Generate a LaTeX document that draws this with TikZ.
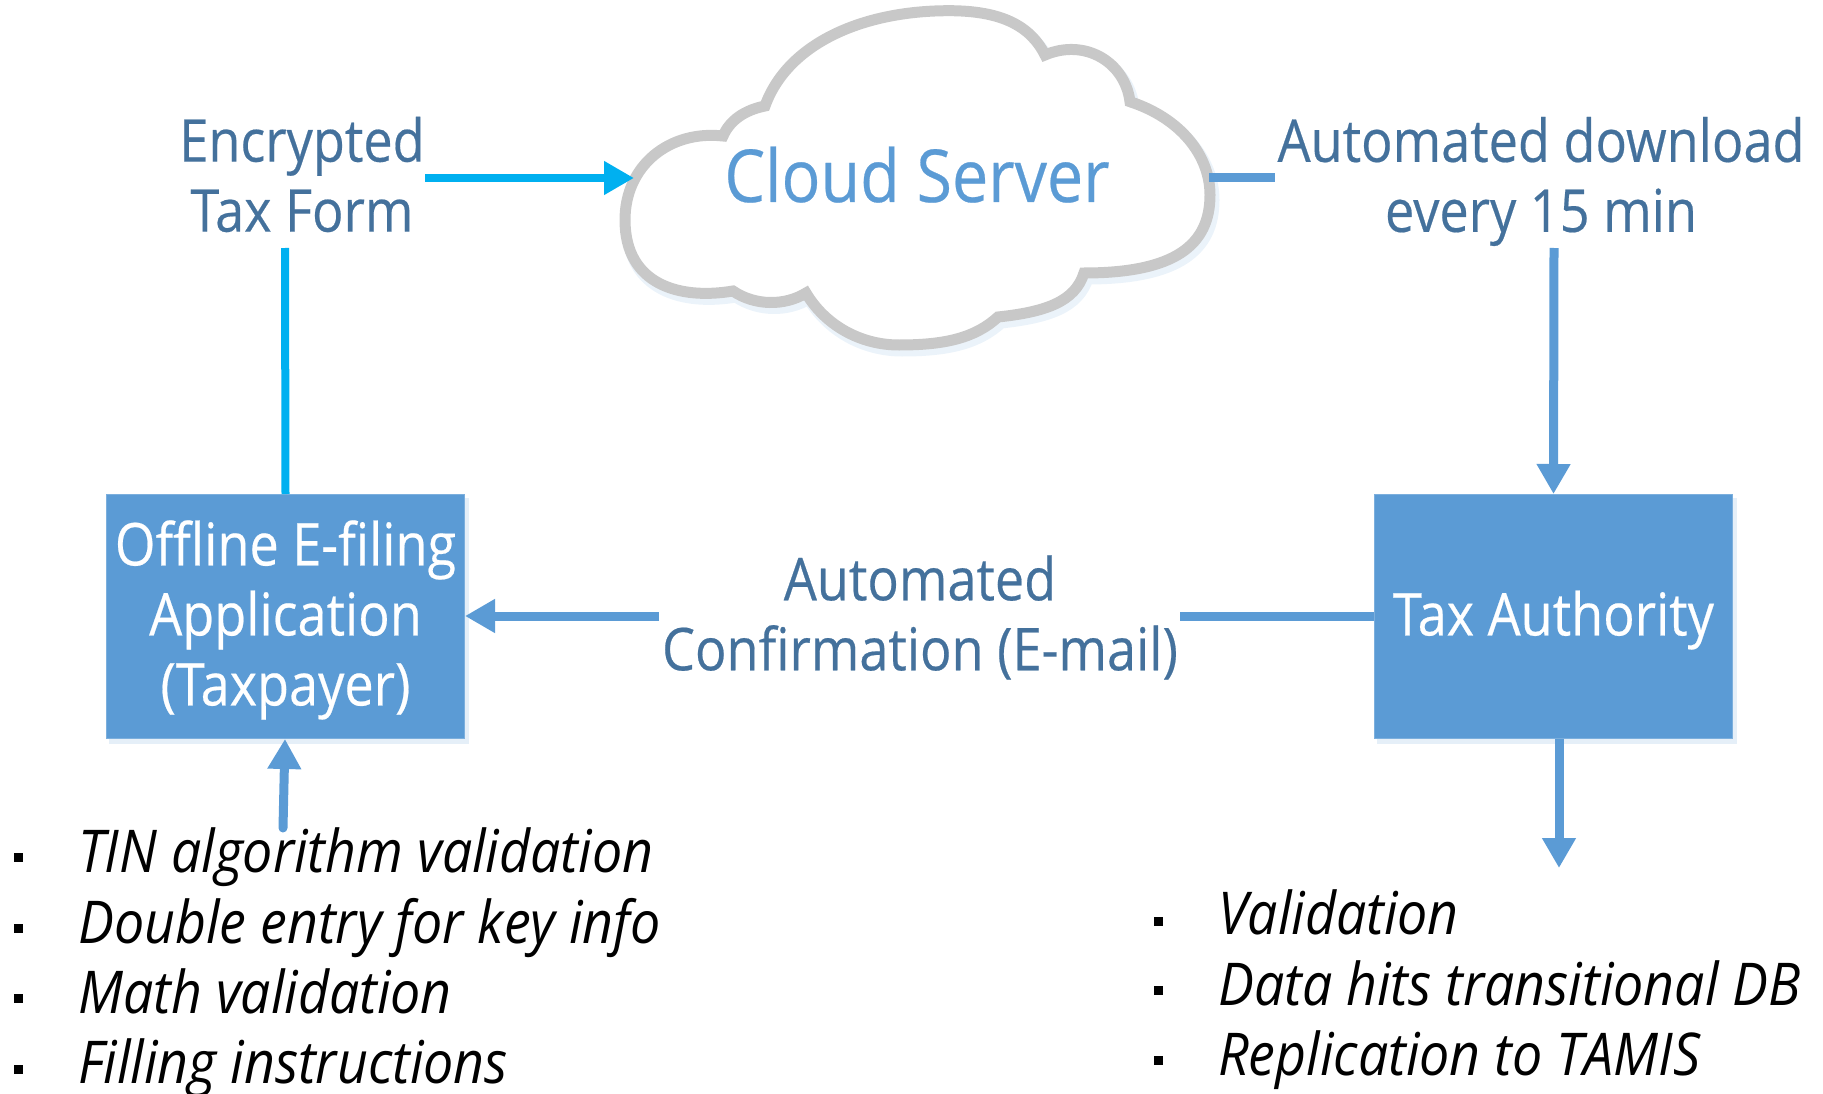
\documentclass[tikz,border=0pt]{standalone}
\usepackage{fontspec}
\usetikzlibrary{arrows.meta}
\newfontfamily\lblfont[FakeStretch=0.885,FakeBold=0.35]{Open Sans}
\newfontfamily\itmfont[FakeStretch=0.91]{Open Sans}
\definecolor{boxblue}{HTML}{5B9BD5}
\definecolor{labelblue}{HTML}{44719C}
\definecolor{cyanline}{HTML}{00B0F0}
\definecolor{cloudgrey}{HTML}{C8C8C8}
\definecolor{haze}{HTML}{BDD7EE}
\newcommand{\cloudshape}{(765,106)
 .. controls (787,45) and (860,10.7) .. (949,10.7)
 .. controls (1000,10.7) and (1030,25) .. (1045,55)
 .. controls (1085,38) and (1125,62) .. (1130,101.7)
 .. controls (1180,118) and (1210,155) .. (1210,195)
 .. controls (1210,245) and (1175,273) .. (1084,273)
 .. controls (1075,302) and (1045,312) .. (998,317)
 .. controls (975,338) and (945,345) .. (899,345)
 .. controls (860,345) and (825,325) .. (806,293)
 .. controls (785,306) and (755,306) .. (733,291)
 .. controls (680,300) and (625,285) .. (625,220)
 .. controls (625,165) and (670,130) .. (723,136)
 .. controls (730,120) and (745,110) .. (765,106) -- cycle}
\tikzset{
 x=1pt,y=-1pt,
 bluebox/.style={fill=boxblue,draw=boxblue!80!white,line width=1pt,minimum width=358pt,minimum height=244pt,inner sep=0pt,text=white,align=center,font=\lblfont\fontsize{59}{70}\selectfont},
 boxhaze/.style={fill=haze,opacity=.4,minimum width=360pt,minimum height=246pt,inner sep=0pt},
 lbl/.style={text=labelblue,align=center,inner sep=0pt,font=\lblfont\fontsize{59}{70}\selectfont},
 cloudlbl/.style={text=boxblue,inner sep=0pt,anchor=base,font=\lblfont\fontsize{73}{80}\selectfont},
 itm/.style={text=black,inner sep=0pt,anchor=base west,font=\itmfont\itshape\fontsize{59}{70}\selectfont},
 bullet/.style={fill=black,minimum width=9pt,minimum height=9pt,inner sep=0pt},
 cyanconn/.style={draw=cyanline,line width=8pt},
 blueconn/.style={draw=boxblue,line width=9pt},
 cyanhead/.style={-{Triangle[length=30pt,width=32pt]}},
}
\begin{document}
\begin{tikzpicture}
\useasboundingbox (0,0) rectangle (1823,1094);
% cloud
\draw[haze,opacity=.3,line width=13pt,line join=miter,shift={(3,5)}] \cloudshape;
\draw[cloudgrey,fill=white,line width=11pt,line join=miter] \cloudshape;
\node[cloudlbl] (cloud) at (917,202) {Cloud Server};
\coordinate (cloudW) at (634,178);
\coordinate (cloudE) at (1209,178);
% boxes
\node[boxhaze] at (288.5,620.5) {};
\node[boxhaze] at (1556.5,620.5) {};
\node[bluebox] (app) at (285.5,616.5) {\rule{0pt}{52pt}Offline E-filing\\Application\\(Taxpayer)};
\node[bluebox] (tax) at (1553.5,616.5) {\rule{0pt}{52pt}Tax Authority};
% labels
\node[lbl] (enc) at (302,174.5) {Encrypted\\Tax Form};
\node[lbl] (auto) at (1541,181.5) {Automated download\\every 15 min};
\node[lbl] (conf) at (920,617.5) {Automated\\Confirmation (E-mail)};
% left list
\node[bullet] (b1) at (18,857) {};
\node[bullet] (b2) at (18,928) {};
\node[bullet] (b3) at (18,998) {};
\node[bullet] (b4) at (18,1069) {};
\node[itm] (t1) at (78,872) {TIN algorithm validation};
\node[itm] (t2) at (78,943) {Double entry for key info};
\node[itm] (t3) at (78,1013) {Math validation};
\node[itm] (t4) at (78,1083) {Filling instructions};
% right list
\node[bullet] (r1) at (1158,921) {};
\node[bullet] (r2) at (1158,990) {};
\node[bullet] (r3) at (1158,1060) {};
\node[itm] (s1) at (1218,934) {Validation};
\node[itm] (s2) at (1218,1005) {Data hits transitional DB};
\node[itm] (s3) at (1218,1075) {Replication to TAMIS};
% connector ends
\coordinate (encS) at (285,248);
\coordinate (encE) at (425,178);
\coordinate (autoW) at (1275,178);
\coordinate (autoS) at (1554,248);
\coordinate (taxW) at (1374,616);
\coordinate (confE) at (1180,616);
\coordinate (confW) at (659,616);
\coordinate (appE) at (465,616);
\coordinate (listTop) at (283,828);
\coordinate (appS) at (285,739);
\coordinate (taxOut) at (1559,739);
\coordinate (taxEnd) at (1559,868);
% connectors
\draw[cyanconn] (app.north) -- (encS);
\draw[cyanconn,cyanhead] (encE) -- (cloudW);
\draw[blueconn] (cloudE) -- (autoW);
\draw[blueconn,cyanhead] (autoS) -- (tax.north);
\draw[blueconn] (taxW) -- (confE);
\draw[blueconn,cyanhead] (confW) -- (appE);
\draw[blueconn,cyanhead,line cap=round] (listTop) -- (appS);
\draw[blueconn,cyanhead] (taxOut) -- (taxEnd);
\end{tikzpicture}
\end{document}
